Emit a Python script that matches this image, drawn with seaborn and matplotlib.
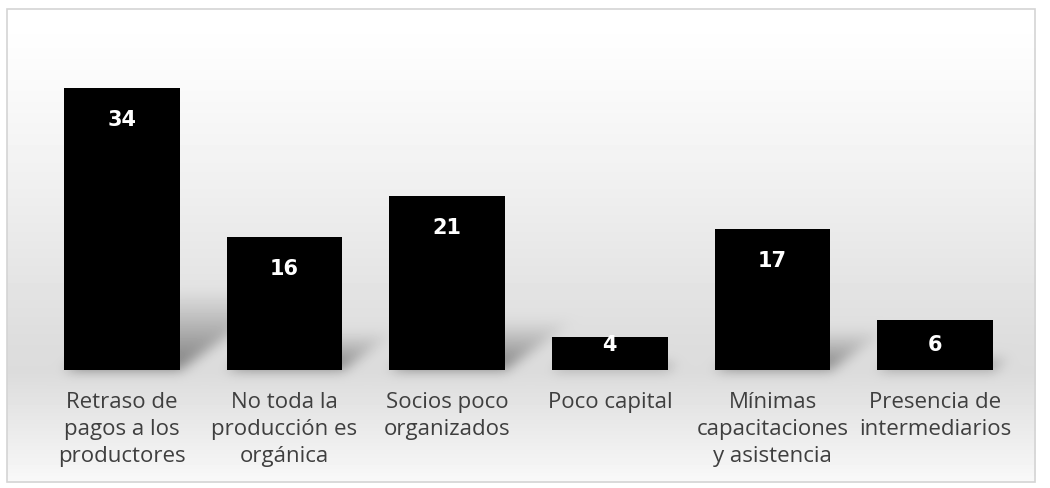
import numpy as np
import pandas as pd
import matplotlib
matplotlib.use("Agg")
import matplotlib.pyplot as plt
from matplotlib.path import Path
from matplotlib.patches import Rectangle
import seaborn as sns

# Problemas identificados (número de menciones)
categorias = [
    "Retraso de\npagos a los\nproductores",
    "No toda la\nproducción es\norgánica",
    "Socios poco\norganizados",
    "Poco capital",
    "Mínimas\ncapacitaciones\ny asistencia",
    "Presencia de\nintermediarios",
]
valores = [34, 16, 21, 4, 17, 6]

sns.set_theme(style="white")
plt.rcParams["font.family"] = ["Open Sans", "DejaVu Sans"]

W, H = 1050, 488
fig = plt.figure(figsize=(W / 100, H / 100), dpi=100, facecolor="white")
ax = fig.add_axes([0.0386, 0.2418, 0.9295, 0.6803])
ax.set_facecolor("none")

df = pd.DataFrame({"problema": categorias, "n": valores})
sns.barplot(data=df, x="problema", y="n", color="black", saturation=1,
            width=0.71, edgecolor="black", linewidth=0, ax=ax, zorder=3)

ax.set_ylim(0, 40)
ax.set_xlim(-0.5, len(categorias) - 0.5)
ax.set_xlabel("")
ax.set_ylabel("")
ax.set_yticks([])
for s in ax.spines.values():
    s.set_visible(False)
ax.tick_params(axis="x", length=0, pad=16, labelsize=16, colors="#3f3f3f")
for lbl in ax.get_xticklabels():
    lbl.set_linespacing(1.38)

# value labels inside the top of each bar
inset, floor = 3.85, 3.0
for i, v in enumerate(valores):
    ax.text(i, max(v - inset, floor), f"{v}", ha="center", va="center",
            color="white", fontsize=15, fontweight="bold",
            family="DejaVu Sans", zorder=5)

# ---- background: soft vertical gradient with perspective bar shadows ----
fig.canvas.draw()
rows = np.arange(H, dtype=float)
stop_y = [9, 40, 150, 260, 340, 372, 410, 482]
stop_v = [1.0, 0.995, 0.955, 0.905, 0.868, 0.862, 0.9, 0.975]
grad = np.interp(rows, stop_y, stop_v)[:, None] * np.ones((1, W))

yy, xx = np.mgrid[0:H, 0:W]
pts = np.column_stack([xx.ravel() + 0.5, yy.ravel() + 0.5])
shadow = np.zeros((H, W))
for p in ax.patches:
    bb = p.get_window_extent()
    x0, x1 = bb.x0, bb.x1
    base = H - bb.y0
    h = bb.height
    dx, dy = 0.42 * h, 0.30 * h
    poly = Path([(x0, base), (x1, base), (x1 + dx, base - dy),
                 (x0 + dx, base - dy), (x0, base)])
    inside = poly.contains_points(pts).reshape(H, W)
    t = np.clip((base - yy) / max(dy, 1), 0, 1)
    shadow = np.maximum(shadow, inside * (1 - t) ** 1.1)

sig = 6.0
k = np.arange(-int(3 * sig), int(3 * sig) + 1)
kern = np.exp(-0.5 * (k / sig) ** 2)
kern /= kern.sum()
shadow = np.apply_along_axis(lambda r: np.convolve(r, kern, mode="same"), 1, shadow)
shadow = np.apply_along_axis(lambda c: np.convolve(c, kern, mode="same"), 0, shadow)

bg = grad - 0.38 * shadow
frame = (xx >= 7) & (xx <= 1035) & (yy >= 9) & (yy <= 482)
bg = np.where(frame, bg, 1.0)

bax = fig.add_axes([0, 0, 1, 1], zorder=-1)
bax.imshow(np.clip(bg, 0, 1), cmap="gray", vmin=0, vmax=1,
           extent=(0, W, H, 0), aspect="auto", interpolation="bilinear")
bax.add_patch(Rectangle((7, 9), 1028, 473, fill=False,
                        edgecolor="#d4d4d4", linewidth=1.2))
bax.set_xlim(0, W)
bax.set_ylim(H, 0)
bax.axis("off")

fig.savefig("out.png", dpi=100, facecolor="white")
